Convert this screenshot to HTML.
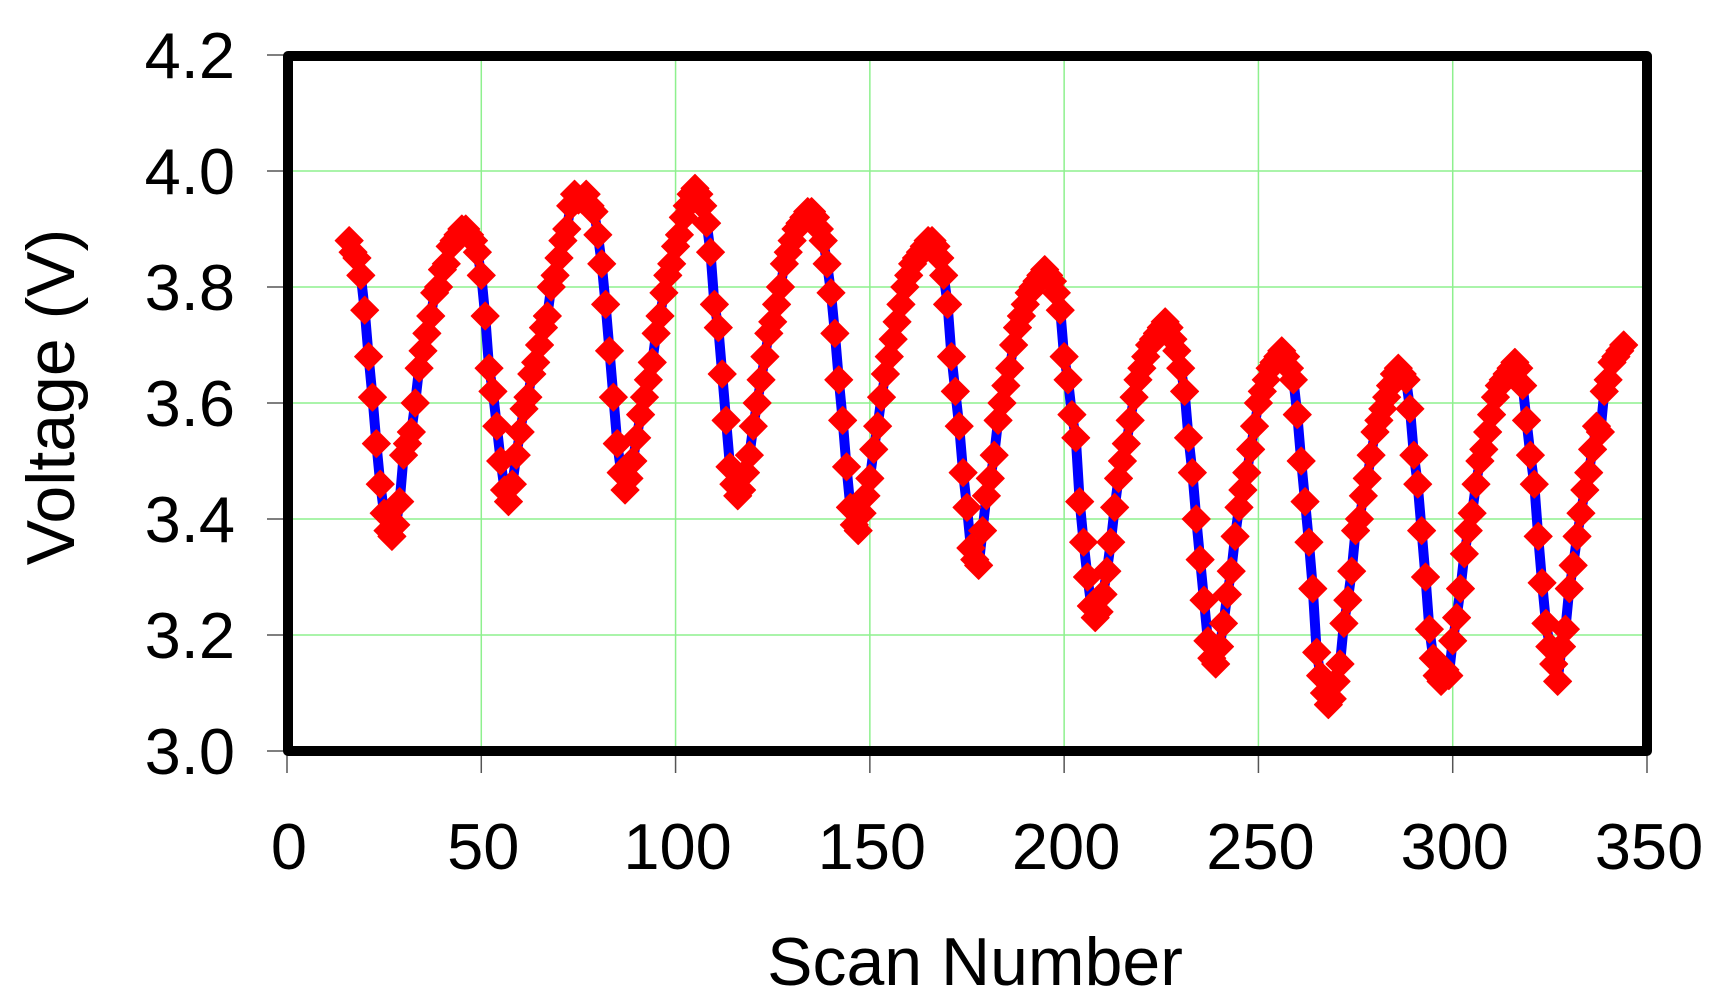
<!DOCTYPE html>
<html><head><meta charset="utf-8"><style>
html,body{margin:0;padding:0;background:#fff;}
svg{display:block;}
text{font-family:"Liberation Sans",Arial,sans-serif;fill:#000;}
</style></head><body>
<svg id="chart" width="1728" height="1004" viewBox="0 0 1728 1004" xmlns="http://www.w3.org/2000/svg">
<g id="grid"></g>
<g id="ticks"></g>
<g id="series"></g>
<rect x="288" y="56" width="1359" height="695" fill="none" stroke="#000" stroke-width="10" stroke-linejoin="round"/>
<text x="975" y="985" font-size="68" text-anchor="middle">Scan Number</text>
<text x="0" y="0" font-size="68" text-anchor="middle" transform="translate(74,397) rotate(-90)">Voltage (V)</text>
</svg>
<script>
const startScan = 16;
const voltages = [
3.88,3.86,3.85,3.82,3.76,3.68,3.61,3.53,3.46,3.41,3.38,3.37,
3.39,3.43,3.51,3.53,3.55,3.60,3.66,3.69,3.72,3.75,3.79,3.80,3.83,3.84,3.87,3.88,3.89,3.90,3.90,
3.89,3.88,3.86,3.82,3.75,3.66,3.62,3.56,3.50,3.45,3.43,
3.46,3.51,3.55,3.59,3.61,3.65,3.67,3.70,3.73,3.75,3.80,3.82,3.85,3.88,3.90,3.94,3.96,3.95,3.95,3.96,
3.94,3.93,3.89,3.84,3.77,3.69,3.61,3.53,3.48,3.45,3.47,
3.50,3.54,3.58,3.61,3.64,3.67,3.72,3.75,3.79,3.82,3.84,3.87,3.89,3.92,3.94,3.96,3.97,
3.96,3.94,3.91,3.86,3.77,3.73,3.65,3.57,3.49,3.46,3.44,3.45,3.48,
3.51,3.56,3.60,3.64,3.68,3.72,3.74,3.77,3.80,3.84,3.86,3.88,3.90,3.91,3.92,3.93,3.93,
3.92,3.90,3.88,3.84,3.79,3.72,3.64,3.57,3.49,3.42,3.39,3.38,3.41,
3.44,3.47,3.52,3.56,3.61,3.65,3.68,3.71,3.74,3.77,3.80,3.82,3.84,3.85,3.86,3.87,3.88,3.88,
3.87,3.85,3.82,3.77,3.68,3.62,3.56,3.48,3.42,3.35,3.33,3.32,
3.38,3.44,3.47,3.51,3.57,3.60,3.63,3.66,3.70,3.73,3.75,3.77,3.79,3.80,3.81,3.82,3.83,3.82,
3.81,3.79,3.76,3.68,3.64,3.58,3.54,3.43,3.36,3.30,3.25,3.23,3.24,
3.27,3.31,3.36,3.42,3.47,3.50,3.53,3.57,3.61,3.64,3.66,3.68,3.70,3.71,3.72,3.73,3.74,3.73,
3.71,3.69,3.66,3.62,3.54,3.48,3.40,3.33,3.26,3.19,3.16,3.15,3.18,
3.22,3.27,3.31,3.37,3.42,3.45,3.48,3.52,3.56,3.60,3.62,3.64,3.66,3.67,3.68,3.69,3.68,
3.66,3.64,3.58,3.50,3.43,3.36,3.28,3.17,3.13,3.10,3.08,3.09,
3.12,3.15,3.22,3.26,3.31,3.38,3.40,3.44,3.47,3.51,3.55,3.57,3.59,3.61,3.63,3.65,3.66,3.65,
3.64,3.59,3.51,3.46,3.38,3.30,3.21,3.16,3.13,3.12,3.14,3.13,
3.19,3.23,3.28,3.34,3.38,3.41,3.46,3.50,3.52,3.55,3.58,3.61,3.63,3.64,3.65,3.66,3.67,3.66,
3.63,3.57,3.51,3.46,3.37,3.29,3.22,3.18,3.15,3.12,3.18,3.21,
3.28,3.32,3.37,3.41,3.45,3.48,3.52,3.56,3.55,3.62,3.64,3.67,3.68,3.69,3.70
];
const xTicks = [0,50,100,150,200,250,300,350];
const yTicks = [3.0,3.2,3.4,3.6,3.8,4.0,4.2];
const yTickLabels = ["3.0","3.2","3.4","3.6","3.8","4.0","4.2"];

const NS = "http://www.w3.org/2000/svg";
const X0 = 287, X1 = 1647, Y0 = 751, Y1 = 55;
function xs(v){ return X0 + (v - 0) / 350 * (X1 - X0); }
function ys(v){ return Y0 - (v - 3.0) / 1.2 * (Y0 - Y1); }
function mk(tag, attrs, parent){
  const e = document.createElementNS(NS, tag);
  for (const k in attrs) e.setAttribute(k, attrs[k]);
  parent.appendChild(e);
  return e;
}
const grid = document.getElementById('grid');
const ticks = document.getElementById('ticks');
const series = document.getElementById('series');

xTicks.forEach(function(t){
  if (t > 0 && t < 350) {
    const g = mk('line', {x1: xs(t), x2: xs(t), y1: Y1, y2: Y0, stroke: '#8ef08e', 'stroke-width': 1.5}, grid);
    
    
  }
  const tk = mk('line', {x1: xs(t), x2: xs(t), y1: Y0, y2: Y0 + 22, stroke: '#555', 'stroke-width': 1.5}, ticks);
  
  
  const lb = mk('text', {x: xs(t) + 2, y: 869, 'font-size': 65, 'text-anchor': 'middle'}, ticks);
  lb.textContent = String(t);
  
  
});
yTicks.forEach(function(t, i){
  if (i > 0 && i < yTicks.length - 1) {
    const g = mk('line', {x1: X0, x2: X1, y1: ys(t), y2: ys(t), stroke: '#8ef08e', 'stroke-width': 1.5}, grid);
    
    
  }
  const tk = mk('line', {x1: X0 - 20, x2: X0, y1: ys(t), y2: ys(t), stroke: '#555', 'stroke-width': 1.5}, ticks);
  
  
  const lb = mk('text', {x: 235, y: ys(t) + 23, 'font-size': 65, 'text-anchor': 'end'}, ticks);
  lb.textContent = yTickLabels[i];
  
  
});

let d = '';
voltages.forEach(function(v, i){
  d += (i ? 'L' : 'M') + xs(startScan + i).toFixed(1) + ' ' + ys(v).toFixed(1);
});
const line = mk('path', {d: d, fill: 'none', stroke: '#0000ff', 'stroke-width': 10, 'stroke-linejoin': 'round'}, series);



voltages.forEach(function(v, i){
  const cx = xs(startScan + i), cy = ys(v), r = 14;
  const p = mk('polygon', {points: cx + ',' + (cy - r) + ' ' + (cx + r) + ',' + cy + ' ' + cx + ',' + (cy + r) + ' ' + (cx - r) + ',' + cy, fill: '#ff0000', stroke: '#ff0000', 'stroke-width': 1, 'stroke-linejoin': 'round'}, series);
  
  
});
</script>
</body></html>
